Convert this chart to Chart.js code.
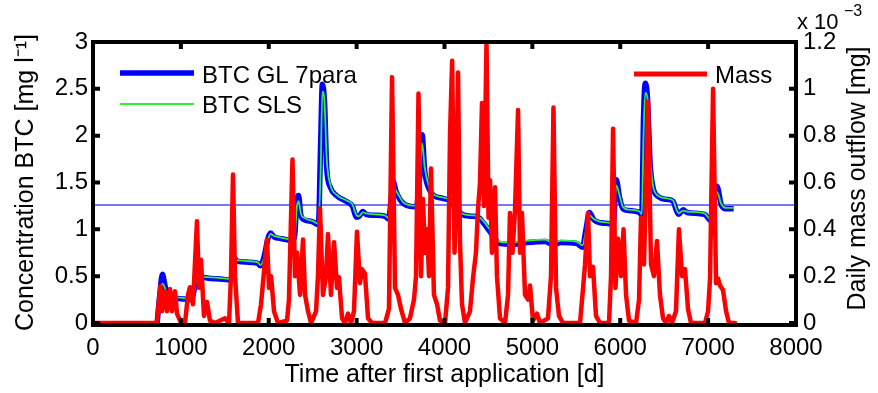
<!DOCTYPE html>
<html><head><meta charset="utf-8">
<script src="https://cdn.jsdelivr.net/npm/chart.js@4.4.0/dist/chart.umd.min.js"></script>
<style>html,body{margin:0;padding:0;background:#fff;}canvas{display:block;}</style>
</head><body>
<canvas id="c" width="878" height="393"></canvas>
<script>
// ---- data ----
const btcDays = [730,760,790,815,845,880,1000,1110,1140,
1175,1200,1230,1300,1450,1560,1585,1610,1640,1750,
1870,1905,1950,1990,2020,2060,2150,2270,2295,2320,
2340,2365,2410,2500,2565,2590,2610,2635,2660,2700,
2770,2880,2950,3000,3030,3070,3110,3200,3320,3365,
3395,3415,3450,3540,3680,3720,3745,3775,3830,3880,
3980,4050,4120,4200,4300,4380,4450,4560,4620,4800,
4950,5150,5200,5260,5320,5500,5570,5610,5650,5700,
5780,5880,5920,5955,5990,6030,6100,6220,6245,6265,
6285,6310,6340,6370,6430,6530,6600,6640,6665,6715,
6760,6960,7000,7030,7060,7100,7150,7200,7290];
const btcGL = [0,0.30,0.52,0.42,0.29,0.27,0.26,0.25,0.30,
0.50,0.54,0.50,0.48,0.47,0.46,0.50,0.69,0.66,0.65,
0.64,0.61,0.72,0.90,0.96,0.92,0.90,0.88,0.93,1.30,
1.36,1.15,1.10,1.08,1.05,1.90,2.55,2.35,1.65,1.45,
1.36,1.30,1.25,1.13,1.14,1.19,1.16,1.15,1.14,1.11,
1.35,1.51,1.40,1.27,1.24,1.60,2.01,1.62,1.42,1.36,
1.33,1.31,1.24,1.16,1.14,1.13,1.06,0.92,0.85,0.84,
0.86,0.87,0.85,0.84,0.86,0.85,0.81,1.00,1.18,1.10,
1.07,1.06,1.05,1.53,1.35,1.22,1.20,1.18,1.15,2.20,
2.56,2.40,1.70,1.46,1.35,1.32,1.30,1.20,1.16,1.21,
1.18,1.16,1.12,1.09,1.28,1.46,1.26,1.22,1.22];
const btcSLS = [0,0.28,0.42,0.38,0.29,0.28,0.27,0.26,0.29,
0.47,0.51,0.50,0.49,0.48,0.47,0.49,0.66,0.67,0.66,
0.65,0.62,0.70,0.88,0.95,0.93,0.91,0.89,0.92,1.24,
1.30,1.17,1.12,1.09,1.06,1.60,2.47,2.35,1.75,1.48,
1.37,1.31,1.27,1.15,1.14,1.18,1.17,1.16,1.15,1.12,
1.30,1.45,1.41,1.28,1.25,1.55,1.92,1.66,1.44,1.37,
1.34,1.32,1.26,1.17,1.15,1.14,1.08,0.94,0.87,0.86,
0.88,0.89,0.87,0.86,0.88,0.87,0.83,0.98,1.15,1.11,
1.08,1.07,1.06,1.47,1.37,1.24,1.21,1.19,1.16,2.00,
2.46,2.40,1.78,1.48,1.36,1.33,1.31,1.21,1.17,1.20,
1.19,1.17,1.13,1.10,1.25,1.40,1.27,1.23,1.23];
const massDays = [0,728,751,768,785,819,842,876,899,933,
956,990,1047,1081,1104,1138,1183,1206,1229,1263,
1297,1331,1388,1502,1548,1570,1593,1616,1650,1878,
1912,1946,1980,2003,2026,2060,2105,2208,2230,2270,
2299,2322,2356,2390,2413,2447,2481,2538,2560,2583,
2617,2652,2674,2708,2743,2777,2799,2834,2868,2902,
2936,2970,3004,3038,3061,3095,3130,3175,3323,3368,
3403,3437,3471,3505,3551,3607,3653,3676,3704,3733,
3755,3778,3801,3824,3846,3880,3915,3949,4006,4040,
4063,4087,4114,4131,4154,4176,4199,4233,4290,4324,
4358,4381,4404,4427,4449,4478,4501,4518,4540,4575,
4597,4632,4689,4723,4745,4774,4802,4837,4859,4882,
4916,4950,4973,5007,5053,5087,5178,5212,5240,5269,
5303,5349,5542,5576,5599,5633,5656,5690,5724,5770,
5872,5895,5918,5946,5975,6009,6037,6066,6100,6180,
6214,6236,6270,6316,6350,6384,6418,6452,6487,6521,
6555,6589,6634,6668,6703,6737,6771,6805,6965,6999,
7022,7056,7090,7113,7136,7170,7204,7238,7306];
// daily mass outflow in units of 1e-3 mg
const massValues = [0,0,0.10,0.157,0.05,0.136,0.05,0.145,0.05,0.136,
0.04,0.01,0,0.12,0.153,0.08,0.434,0.15,0.27,0.03,
0.09,0.01,0,0.02,0,0.2,0.634,0.2,0,0,
0.08,0.22,0.357,0.15,0.2,0.05,0,0.01,0.1,0.698,
0.2,0.30,0.12,0.357,0.12,0.05,0,0.05,0.2,0.49,
0.12,0.2,0.38,0.12,0.345,0.15,0.196,0.02,0,0.04,
0,0.05,0.39,0.17,0.23,0.21,0.02,0,0,0.06,
1.05,0.15,0.12,0.06,0,0.02,0.1,0.2,0.98,0.2,
0.53,0.3,0.4,0.2,0.66,0.12,0.08,0.01,0,0.15,
0.81,1.12,0.3,0.5,1.07,0.35,0.08,0,0.05,0.19,
0.3,0.485,0.6,0.94,0.5,1.2,0.45,0.61,0.3,0.58,
0.2,0.02,0,0.12,0.47,0.3,0.48,0.91,0.3,0.47,
0.12,0.1,0.16,0.01,0.04,0,0.02,0.2,0.92,0.15,
0.03,0,0,0.145,0.25,0.47,0.2,0.24,0.03,0,
0,0.2,0.83,0.15,0.36,0.2,0.40,0.12,0.01,0,
0.1,0.45,0.25,0.945,0.25,0.2,0.35,0.12,0.02,0,
0.03,0,0.05,0.40,0.2,0.23,0.06,0,0,0.05,
0.19,1.0,0.17,0.19,0.16,0.14,0.05,0,0];
const refLevel = 1.26;
const refDays = [0, 8000];
const xTicks = [0,1000,2000,3000,4000,5000,6000,7000,8000];
const yLeftTicks = [0,0.5,1,1.5,2,2.5,3];
const yRightTicks = [0,0.2,0.4,0.6,0.8,1,1.2];

const FONT = "'Liberation Sans', Arial, Helvetica, sans-serif";
const pts = (xs, ys) => xs.slice(0, Math.min(xs.length, ys.length)).map((v, i) => ({x: v, y: ys[i]}));

const decor = {
  id: 'decor',
  afterDraw(chart) {
    const {ctx, chartArea: {left, right, top, bottom}, scales: {x, y, y2}} = chart;
    ctx.save();
    ctx.strokeStyle = '#000';
    ctx.lineWidth = 4;
    ctx.lineCap = 'butt';
    ctx.beginPath();
    ctx.rect(left, top, right - left, bottom + 2 - top);
    ctx.stroke();
    ctx.beginPath();
    xTicks.forEach(v => {
      const px = x.getPixelForValue(v);
      ctx.moveTo(px, bottom + 2); ctx.lineTo(px, bottom - 5);
      ctx.moveTo(px, top); ctx.lineTo(px, top + 7);
    });
    yLeftTicks.forEach(v => {
      const py = y.getPixelForValue(v);
      ctx.moveTo(left, py); ctx.lineTo(left + 7, py);
    });
    yRightTicks.forEach(v => {
      const py = y2.getPixelForValue(v);
      ctx.moveTo(right, py); ctx.lineTo(right - 7, py);
    });
    ctx.stroke();
    // legend
    ctx.strokeStyle = '#0000ff'; ctx.lineWidth = 5.5;
    ctx.beginPath(); ctx.moveTo(120, 73); ctx.lineTo(194, 73); ctx.stroke();
    ctx.strokeStyle = '#33ee33'; ctx.lineWidth = 2;
    ctx.beginPath(); ctx.moveTo(120, 104); ctx.lineTo(194, 104); ctx.stroke();
    ctx.strokeStyle = '#ff0000'; ctx.lineWidth = 5;
    ctx.beginPath(); ctx.moveTo(634, 74); ctx.lineTo(707, 74); ctx.stroke();
    ctx.fillStyle = '#000';
    ctx.font = '24px ' + FONT;
    ctx.textBaseline = 'alphabetic';
    ctx.textAlign = 'left';
    ctx.fillText('BTC GL 7para', 202, 83);
    ctx.fillText('BTC SLS', 202, 113);
    ctx.fillText('Mass', 715, 83);
    // exponent label of right axis
    ctx.font = '22px ' + FONT;
    ctx.fillText('x 10', 797, 29);
    ctx.font = '16px ' + FONT;
    ctx.fillText('\u22123', 844, 16);
    // right axis title, reading bottom-to-top
    ctx.save();
    ctx.translate(858, (top + bottom) / 2 - 4);
    ctx.rotate(-Math.PI / 2);
    ctx.font = '25px ' + FONT;
    ctx.textAlign = 'center';
    ctx.textBaseline = 'middle';
    ctx.fillText('Daily mass outflow [mg]', 0, 0);
    ctx.restore();
    ctx.restore();
  }
};

const tickFont = {family: FONT, size: 24};
const titleFont = {family: FONT, size: 25};
const fmt = v => String(v);

new Chart(document.getElementById('c'), {
  type: 'line',
  data: {
    datasets: [
      {label: 'Mass', data: pts(massDays, massValues), yAxisID: 'y2', borderColor: '#ff0000',
       borderWidth: 4.5, pointRadius: 0, tension: 0, borderJoinStyle: 'round', borderCapStyle: 'round', order: 0},
      {label: 'BTC SLS', data: pts(btcDays, btcSLS), yAxisID: 'y', borderColor: '#33ee33',
       borderWidth: 1.8, pointRadius: 0, cubicInterpolationMode: 'monotone', order: 1},
      {label: 'BTC GL 7para', data: pts(btcDays, btcGL), yAxisID: 'y', borderColor: '#0000ff',
       borderWidth: 5.5, pointRadius: 0, cubicInterpolationMode: 'monotone', borderJoinStyle: 'round', order: 2},
      {label: 'ref', data: refDays.map(d => ({x: d, y: refLevel})), yAxisID: 'y', borderColor: '#4a4aff',
       borderWidth: 1.3, pointRadius: 0, order: 3}
    ]
  },
  options: {
    responsive: false, animation: false, devicePixelRatio: 1,
    layout: {padding: {top: 42, left: 0, right: 0, bottom: 0}},
    plugins: {legend: {display: false}, tooltip: {enabled: false}},
    scales: {
      x: {
        type: 'linear', min: 0, max: 8000,
        afterBuildTicks: s => { s.ticks = xTicks.map(v => ({value: v})); },
        afterFit: s => { s.height = 70; },
        grid: {display: false, drawTicks: false}, border: {display: false},
        ticks: {padding: 11, font: tickFont, color: '#000', maxRotation: 0, autoSkip: false, callback: fmt},
        title: {display: true, text: 'Time after first application [d]', font: titleFont, color: '#000', padding: {top: 0, bottom: 3}}
      },
      y: {
        position: 'left', min: 0, max: 3,
        afterBuildTicks: s => { s.ticks = yLeftTicks.map(v => ({value: v})); },
        afterFit: s => { s.width = 93; },
        grid: {display: false, drawTicks: false}, border: {display: false},
        ticks: {padding: 5, font: tickFont, color: '#000', autoSkip: false, callback: fmt},
        title: {display: true, text: 'Concentration BTC [mg l\u207B\u00B9]', font: titleFont, color: '#000', padding: {top: 11, bottom: 0}}
      },
      y2: {
        position: 'right', min: 0, max: 1.2,
        afterBuildTicks: s => { s.ticks = yRightTicks.map(v => ({value: v})); },
        afterFit: s => { s.width = 82; },
        grid: {display: false, drawTicks: false}, border: {display: false},
        ticks: {padding: 7, font: tickFont, color: '#000', autoSkip: false, callback: fmt},
        title: {display: false}
      }
    }
  },
  plugins: [decor]
});
</script>
</body></html>
